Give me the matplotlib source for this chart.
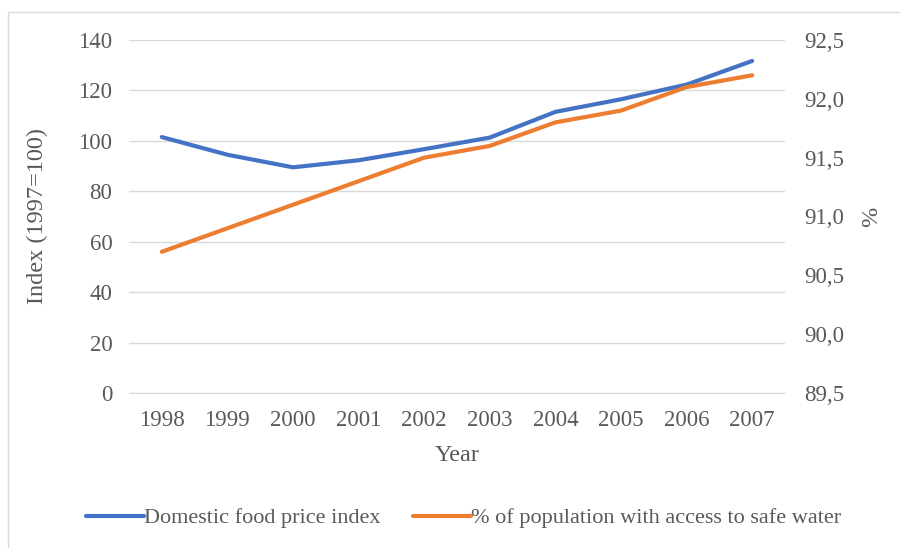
import matplotlib
matplotlib.use("Agg")
import matplotlib.pyplot as plt
from matplotlib.patches import Rectangle

years = ["1998", "1999", "2000", "2001", "2002", "2003", "2004", "2005", "2006", "2007"]
food_price_index = [101.5, 94.5, 89.5, 92.3, 96.7, 101.3, 111.5, 116.5, 122.3, 131.7]
safe_water_pct = [90.7, 90.9, 91.1, 91.3, 91.5, 91.6, 91.8, 91.9, 92.1, 92.2]
left_ticks = [0, 20, 40, 60, 80, 100, 120, 140]
right_ticks = [89.5, 90.0, 90.5, 91.0, 91.5, 92.0, 92.5]
right_tick_labels = ["89,5", "90,0", "90,5", "91,0", "91,5", "92,0", "92,5"]

plt.rcParams['font.family'] = ['Liberation Serif', 'DejaVu Serif']
txt = '#595959'
blue = '#4472C4'
orange = '#ED7D31'

fig = plt.figure(figsize=(9, 5.48), dpi=100)
fig.patches.append(Rectangle((8/900, -0.5), 1.5, 1.5 - 12/548, transform=fig.transFigure,
                             fill=False, edgecolor='#d9d9d9', linewidth=1.0))
ax = fig.add_axes([129/900, 1 - 393/548, (785 - 129)/900, (393 - 40)/548])
ax2 = ax.twinx()

x = list(range(len(years)))
ax.plot(x, food_price_index, color=blue, linewidth=3, solid_capstyle='round',
        label='Domestic food price index', zorder=3)
ax2.plot(x, safe_water_pct, color=orange, linewidth=3, solid_capstyle='round',
         label='% of population with access to safe water', zorder=3)

ax.set_xlim(-0.5, len(years) - 0.5)
ax.set_ylim(0, 140)
ax2.set_ylim(89.5, 92.5)
ax.set_yticks(left_ticks)
ax2.set_yticks(right_ticks)
ax2.set_yticklabels(right_tick_labels)
ax.set_xticks(x)
ax.set_xticklabels(years)

ax.grid(axis='y', color='#d9d9d9', linewidth=1)
ax.set_axisbelow(True)
for a in (ax, ax2):
    for s in a.spines.values():
        s.set_visible(False)
    a.tick_params(length=0, labelsize=16.5, colors=txt)
ax.spines['bottom'].set_visible(True)
ax.spines['bottom'].set_color('#d9d9d9')
ax.tick_params(axis='y', pad=12)
ax2.tick_params(axis='y', pad=14)
ax.tick_params(axis='x', pad=12)

ax.set_xlabel('Year', fontsize=17.5, color=txt, labelpad=10)
ax.set_ylabel('Index (1997=100)', fontsize=17.5, color=txt, labelpad=22)
ax2.set_ylabel('%', fontsize=17.5, color=txt, labelpad=12)

h1, l1 = ax.get_legend_handles_labels()
h2, l2 = ax2.get_legend_handles_labels()
fig.legend(h1 + h2, l1 + l2, loc='center', bbox_to_anchor=(0.515, 1 - 518/548), ncol=2,
           frameon=False, fontsize=16, labelcolor=txt, handlelength=2.6,
           handletextpad=0.0, columnspacing=1.5)

fig.savefig('out.png', dpi=100)
